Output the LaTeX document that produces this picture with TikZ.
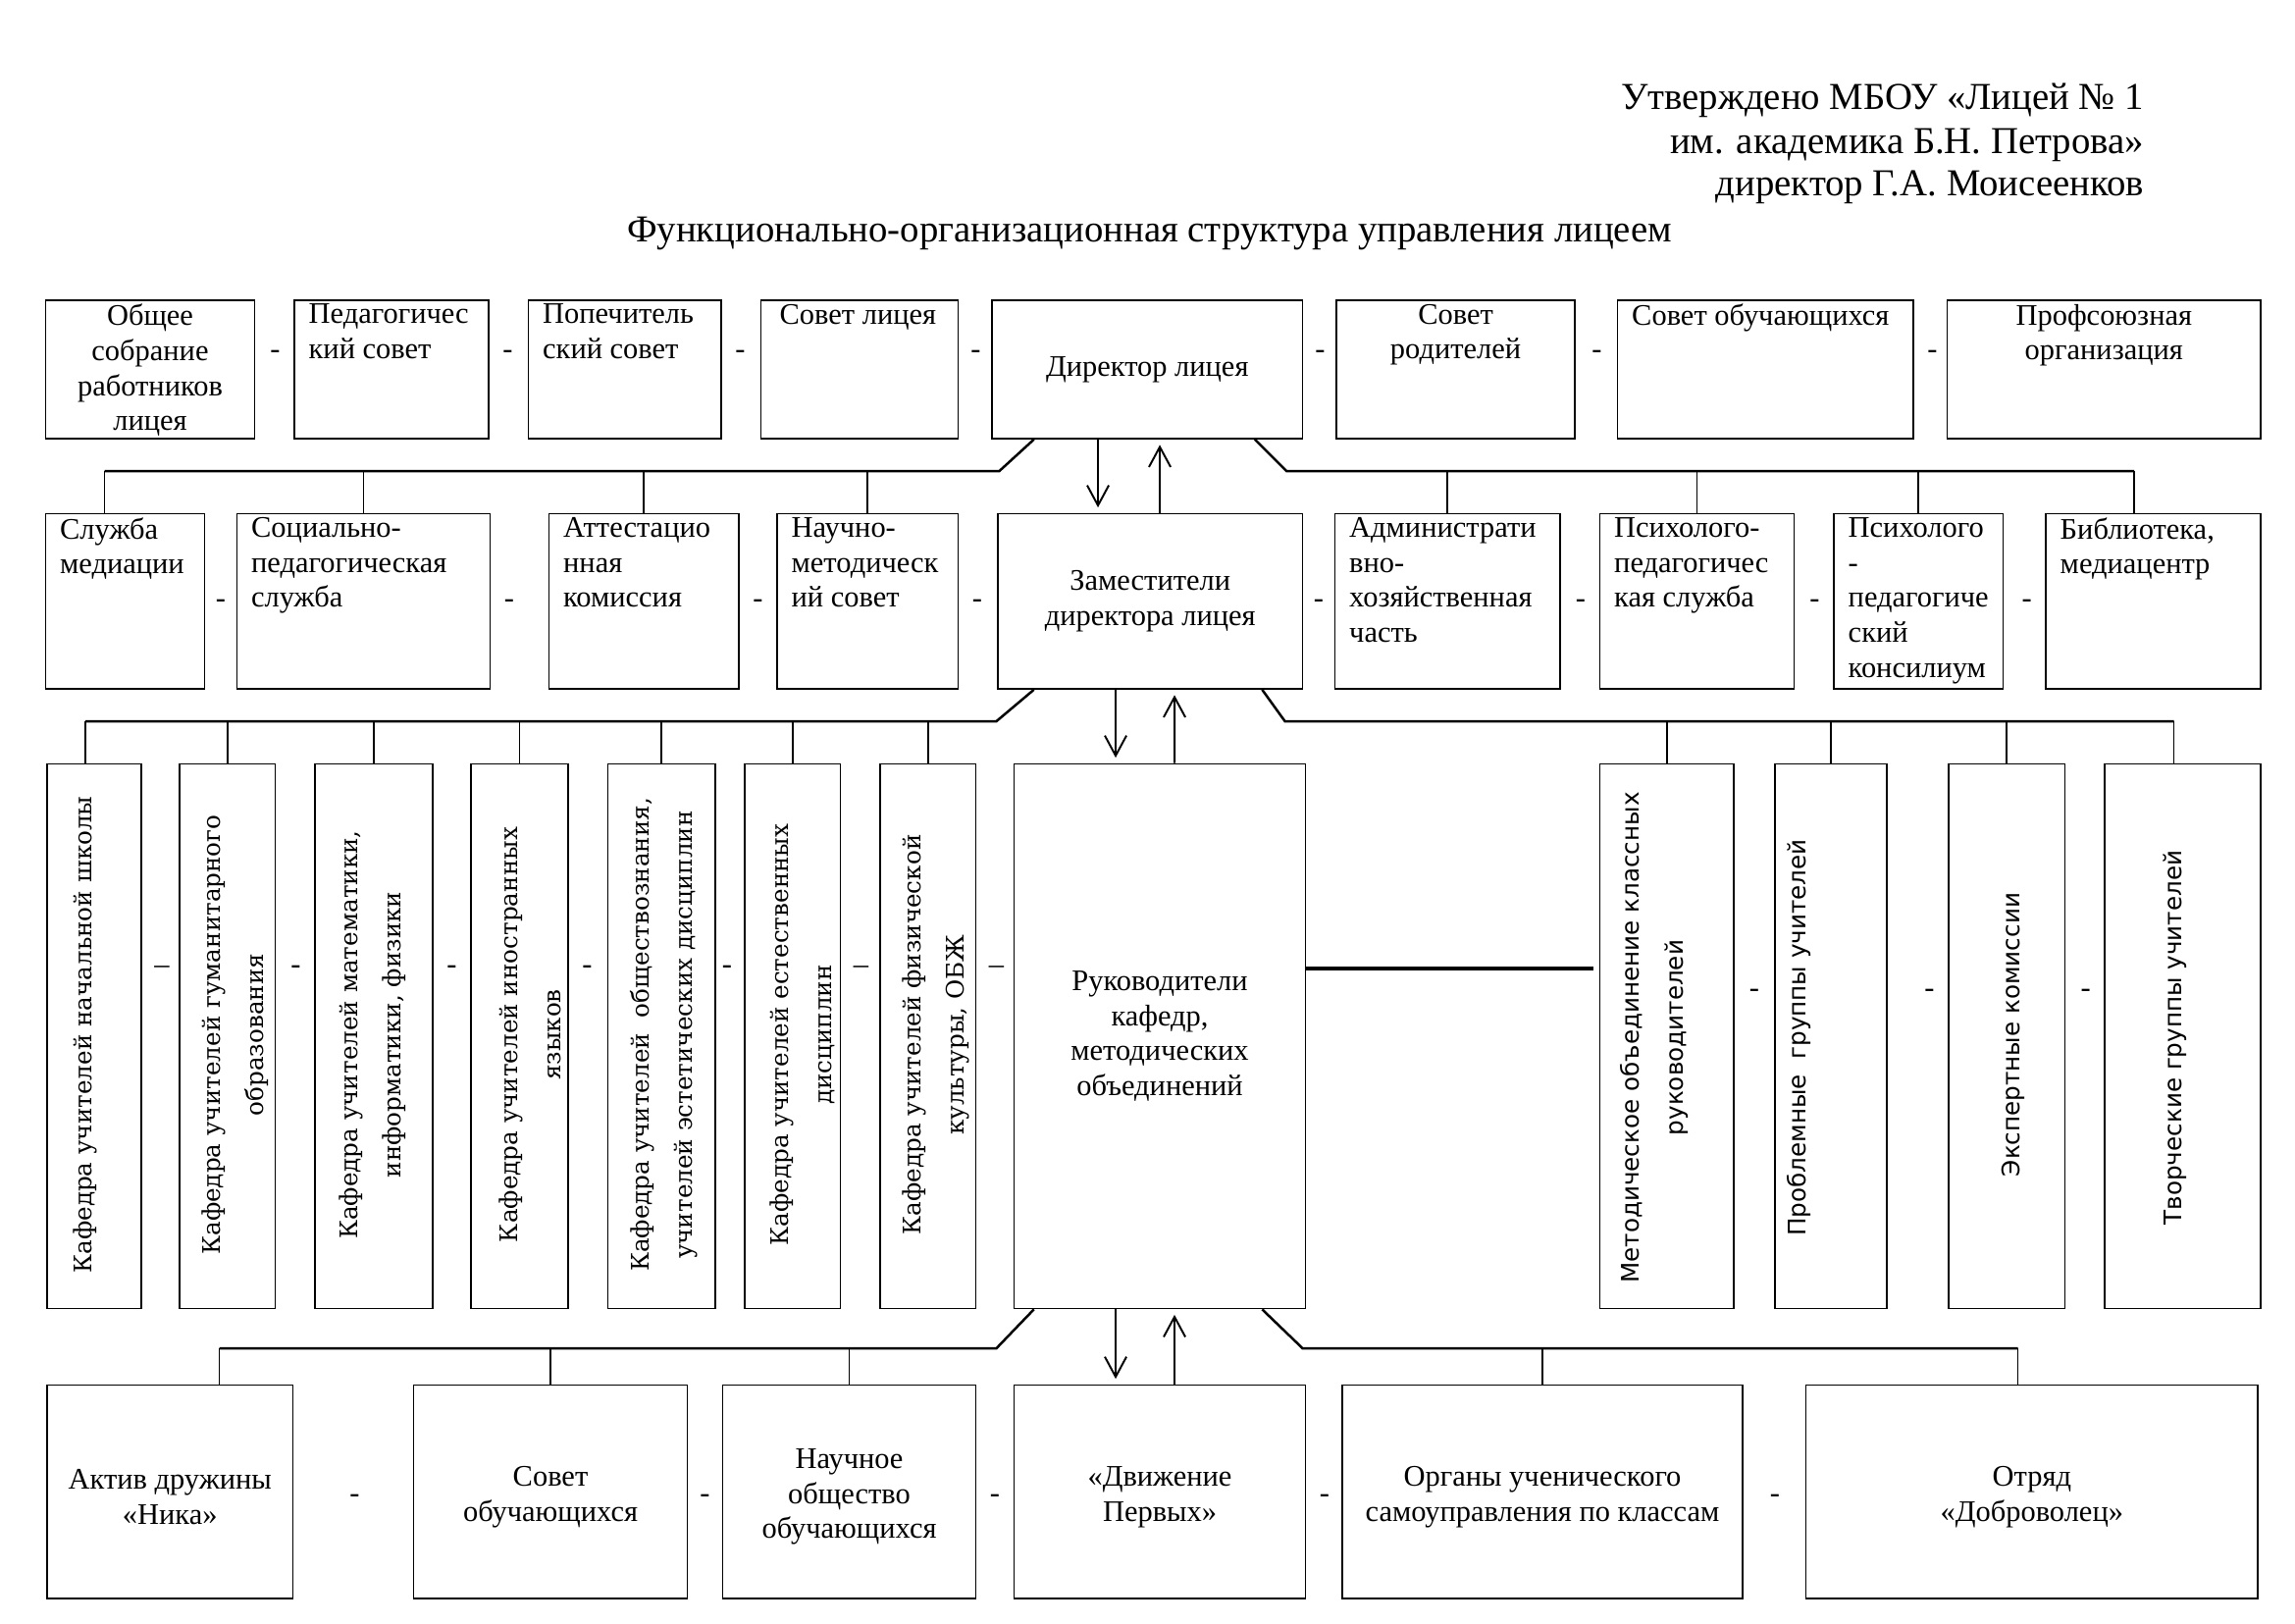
\documentclass[tikz,border=0pt]{standalone}
\usepackage{fontspec}
\setmainfont{Liberation Serif}
\newfontfamily\vserif{DejaVu Serif}
\newfontfamily\vsans{DejaVu Sans}
\usetikzlibrary{arrows.meta,fit,calc}

\begin{document}
\begin{tikzpicture}[x=0.01904cm, y=-0.01904cm]
    % Define styles
    \tikzstyle{box} = [draw, rectangle, line width=0.6pt, inner sep=0pt]
    \tikzstyle{ltxt} = [anchor=north west, align=left, inner xsep=5.4pt, inner ysep=1.5pt, font=\fontsize{11}{12.9}\selectfont]
    \tikzstyle{ctxt} = [anchor=north, align=center, inner xsep=0pt, inner ysep=1.5pt, font=\fontsize{11}{12.9}\selectfont]
    \tikzstyle{mtxt} = [align=center, inner sep=0pt, font=\fontsize{11}{12.9}\selectfont]
    \tikzstyle{vtxt} = [rotate=90, align=center, inner sep=0pt, font=\vserif\fontsize{8.9}{16}\selectfont]
    \tikzstyle{vstxt} = [rotate=90, align=center, inner sep=0pt, font=\vsans\fontsize{8.9}{16}\selectfont]
    \tikzstyle{hdr} = [inner sep=0pt, font=\fontsize{14}{16}\selectfont]
    \tikzstyle{sep} = [inner sep=0pt, font=\fontsize{11}{12.9}\selectfont]
    \tikzstyle{link} = [line width=0.6pt]
    \tikzstyle{bus} = [line width=0.9pt]
    \tikzstyle{arrow} = [line width=0.7pt, -{Straight Barb[length=2.6mm, width=2.8mm]}, shorten >=2pt]

    \useasboundingbox (0,0) rectangle (1559.3,1102.7);

    % Header
    \node [hdr, anchor=base east] (appr1) at (1457,74) {Утверждено МБОУ «Лицей № 1};
    \node [hdr, anchor=base east] (appr2) at (1457,104) {им. академика Б.Н. Петрова»};
    \node [hdr, anchor=base east] (appr3) at (1457,133) {директор Г.А. Моисеенков};
    \node [hdr, anchor=base] (title) at (781,164) {Функционально-организационная структура управления лицеем};

    % Row 1: director and councils
    \node [box, fit={(31,204) (173,298)}] (obs) {};
    \node [box, fit={(200,204) (332,298)}] (pedsov) {};
    \node [box, fit={(359,204) (490,298)}] (popsov) {};
    \node [box, fit={(517,204) (651,298)}] (sovlic) {};
    \node [box, fit={(674,204) (885,298)}] (dir) {};
    \node [box, fit={(908,204) (1070,298)}] (sovrod) {};
    \node [box, fit={(1099,204) (1300,298)}] (sovobu) {};
    \node [box, fit={(1323,204) (1536,298)}] (prof) {};
    \node [ctxt] (obs-t) at (obs.north) {Общее\\собрание\\работников\\лицея};
    \node [ltxt] (pedsov-t) at (pedsov.north west) {Педагогичес\\кий совет};
    \node [ltxt] (popsov-t) at (popsov.north west) {Попечитель\\ский совет};
    \node [ltxt, inner xsep=7pt] (sovlic-t) at (sovlic.north west) {Совет лицея};
    \node [mtxt] (dir-t) at (dir.center) {Директор лицея};
    \node [ctxt] (sovrod-t) at (sovrod.north) {Совет\\родителей};
    \node [ltxt] (sovobu-t) at (sovobu.north west) {Совет обучающихся};
    \node [ctxt] (prof-t) at (prof.north) {Профсоюзная\\организация};
    \node [sep] (s11) at (187,241) {-}; \node [sep] (s12) at (345,241) {-};
    \node [sep] (s13) at (503,241) {-}; \node [sep] (s14) at (663,241) {-};
    \node [sep] (s15) at (897,241) {-}; \node [sep] (s16) at (1085,241) {-};
    \node [sep] (s17) at (1313,241) {-};

    % Row 2: deputies and services
    \node [box, fit={(31,349) (139,468)}] (sluzh) {};
    \node [box, fit={(161,349) (333,468)}] (socped) {};
    \node [box, fit={(373,349) (502,468)}] (attest) {};
    \node [box, fit={(528,349) (651,468)}] (nmsov) {};
    \node [box, fit={(678,349) (885,468)}] (zam) {};
    \node [box, fit={(907,349) (1060,468)}] (adm) {};
    \node [box, fit={(1087,349) (1219,468)}] (psped) {};
    \node [box, fit={(1246,349) (1361,468)}] (konsil) {};
    \node [box, fit={(1390,349) (1536,468)}] (bibl) {};
    \node [ltxt] (sluzh-t) at (sluzh.north west) {Служба\\медиации};
    \node [ltxt] (socped-t) at (socped.north west) {Социально-\\педагогическая\\служба};
    \node [ltxt] (attest-t) at (attest.north west) {Аттестацио\\нная\\комиссия};
    \node [ltxt] (nmsov-t) at (nmsov.north west) {Научно-\\методическ\\ий совет};
    \node [mtxt] (zam-t) at (zam.center) {Заместители\\директора лицея};
    \node [ltxt] (adm-t) at (adm.north west) {Администрати\\вно-\\хозяйственная\\часть};
    \node [ltxt] (psped-t) at (psped.north west) {Психолого-\\педагогичес\\кая служба};
    \node [ltxt] (konsil-t) at (konsil.north west) {Психолого\\-\\педагогиче\\ский\\консилиум};
    \node [ltxt] (bibl-t) at (bibl.north west) {Библиотека,\\медиацентр};
    \node [sep] (s21) at (150,410) {-}; \node [sep] (s22) at (346,410) {-};
    \node [sep] (s23) at (515,410) {-}; \node [sep] (s24) at (664,410) {-};
    \node [sep] (s25) at (896,410) {-}; \node [sep] (s26) at (1074,410) {-};
    \node [sep] (s27) at (1233,410) {-}; \node [sep] (s28) at (1377,410) {-};

    % Row 3: departments and methodical groups
    \node [box, fit={(32,519) (96,889)}] (k1) {};
    \node [box, fit={(122,519) (187,889)}] (k2) {};
    \node [box, fit={(214,519) (294,889)}] (k3) {};
    \node [box, fit={(320,519) (386,889)}] (k4) {};
    \node [box, fit={(413,519) (486,889)}] (k5) {};
    \node [box, fit={(506,519) (571,889)}] (k6) {};
    \node [box, fit={(598,519) (663,889)}] (k7) {};
    \node [box, fit={(689,519) (887,889)}] (ruk) {};
    \node [box, fit={(1087,519) (1178,889)}] (mo) {};
    \node [box, fit={(1206,519) (1282,889)}] (probl) {};
    \node [box, fit={(1324,519) (1403,889)}] (exp) {};
    \node [box, fit={(1430,519) (1536,889)}] (tvor) {};
    \node [vtxt] (k1-t) at (58,703) {Кафедра учителей начальной школы};
    \node [vtxt] (k2-t) at (160,703) {Кафедра учителей гуманитарного\\образования};
    \node [vtxt] (k3-t) at (253,703) {Кафедра учителей математики,\\информатики, физики};
    \node [vtxt] (k4-t) at (360,703) {Кафедра учителей иностранных\\языков};
    \node [vtxt] (k5-t) at (451,703) {Кафедра учителей~ обществознания,\\учителей эстетических дисциплин};
    \node [vtxt] (k6-t) at (545,703) {Кафедра учителей естественных\\дисциплин};
    \node [vtxt] (k7-t) at (636,703) {Кафедра учителей физической\\культуры, ОБЖ};
    \node [mtxt] (ruk-t) at (ruk.center) {Руководители\\кафедр,\\методических\\объединений};
    \node [vstxt] (mo-t) at (1124,705) {Методическое объединение классных\\руководителей};
    \node [vstxt] (probl-t) at (1222,705) {Проблемные~ группы учителей};
    \node [vstxt] (exp-t) at (1368,703) {Экспертные комиссии};
    \node [vstxt] (tvor-t) at (1478,705) {Творческие группы учителей};
    \node [sep] (s31) at (110,659) {–}; \node [sep] (s32) at (201,659) {-};
    \node [sep] (s33) at (307,659) {-}; \node [sep] (s34) at (399,659) {-};
    \node [sep] (s35) at (494,659) {-}; \node [sep] (s36) at (585,659) {–};
    \node [sep] (s37) at (677,659) {–}; \node [sep] (s38) at (1192,675) {-};
    \node [sep] (s39) at (1311,675) {-}; \node [sep] (s310) at (1417,675) {-};

    % Row 4: pupils' organisations
    \node [box, fit={(32,941) (199,1086)}] (aktiv) {};
    \node [box, fit={(281,941) (467,1086)}] (sovob) {};
    \node [box, fit={(491,941) (663,1086)}] (nauch) {};
    \node [box, fit={(689,941) (887,1086)}] (dvizh) {};
    \node [box, fit={(912,941) (1184,1086)}] (organ) {};
    \node [box, fit={(1227,941) (1534,1086)}] (otryad) {};
    \node [mtxt] (aktiv-t) at (aktiv.center |- 0,1017) {Актив дружины\\«Ника»};
    \node [mtxt] (sovob-t) at (sovob.center |- 0,1017) {Совет\\обучающихся};
    \node [mtxt] (nauch-t) at (nauch.center |- 0,1017) {Научное\\общество\\обучающихся};
    \node [mtxt] (dvizh-t) at (dvizh.center |- 0,1017) {«Движение\\Первых»};
    \node [mtxt] (organ-t) at (organ.center |- 0,1017) {Органы ученического\\самоуправления по классам};
    \node [mtxt] (otryad-t) at (otryad.center |- 0,1017) {Отряд\\«Доброволец»};
    \node [sep] (s41) at (241,1018) {-}; \node [sep] (s42) at (479,1018) {-};
    \node [sep] (s43) at (676,1018) {-}; \node [sep] (s44) at (900,1018) {-};
    \node [sep] (s45) at (1206,1018) {-};

    % Bus corners
    \coordinate (b1l) at (71,320);   \coordinate (b1m) at (679,320);
    \coordinate (b1n) at (874,320);  \coordinate (b1r) at (1450,320);
    \coordinate (b2l) at (58,490);   \coordinate (b2m) at (677,490);
    \coordinate (b2n) at (873,490);  \coordinate (b2r) at (1477,490);
    \coordinate (b3l) at (149,916);  \coordinate (b3m) at (677,916);
    \coordinate (b3n) at (885,916);  \coordinate (b3r) at (1371,916);

    % Director -> row 2
    \draw [bus] ($(dir.south west)+(29,0)$) -- (b1m) -- (b1l);
    \draw [bus] ($(dir.south east)+(-33,0)$) -- (b1n) -- (b1r);
    \draw [link] (b1l) -- (b1l |- sluzh.north);
    \draw [link] (socped.north |- b1l) -- (socped.north);
    \draw [link] (attest.north |- b1l) -- (attest.north);
    \draw [link] (nmsov.north |- b1l) -- (nmsov.north);
    \draw [link] (adm.north |- b1r) -- (adm.north);
    \draw [link] (psped.north |- b1r) -- (psped.north);
    \draw [link] (konsil.north |- b1r) -- (konsil.north);
    \draw [link] (b1r) -- (b1r |- bibl.north);
    \draw [arrow] ($(dir.south)+(-33.5,0)$) -- ($(zam.north)+(-35.5,0)$);
    \draw [arrow] ($(zam.north)+(6.5,0)$) -- ($(dir.south)+(8.5,0)$);

    % Deputies -> row 3
    \draw [bus] ($(zam.south west)+(25,0)$) -- (b2m) -- (b2l);
    \draw [bus] ($(zam.south east)+(-28,0)$) -- (b2n) -- (b2r);
    \draw [link] (b2l) -- (b2l |- k1.north);
    \draw [link] (k2.north |- b2l) -- (k2.north);
    \draw [link] (k3.north |- b2l) -- (k3.north);
    \draw [link] (k4.north |- b2l) -- (k4.north);
    \draw [link] (k5.north |- b2l) -- (k5.north);
    \draw [link] (k6.north |- b2l) -- (k6.north);
    \draw [link] (k7.north |- b2l) -- (k7.north);
    \draw [link] (mo.north |- b2r) -- (mo.north);
    \draw [link] (probl.north |- b2r) -- (probl.north);
    \draw [link] (exp.north |- b2r) -- (exp.north);
    \draw [link] (b2r) -- (b2r |- tvor.north);
    \draw [arrow] ($(zam.south)+(-23.5,0)$) -- ($(ruk.north)+(-30,0)$);
    \draw [arrow] ($(ruk.north)+(10,0)$) -- ($(zam.south)+(16.5,0)$);
    \draw [line width=1.2pt] ($(ruk.east)+(0,-46)$) -- ($(mo.west)+(-4,-46)$);

    % Heads of departments -> row 4
    \draw [bus] ($(ruk.south west)+(14,0)$) -- (b3m) -- (b3l);
    \draw [bus] ($(ruk.south east)+(-30,0)$) -- (b3n) -- (b3r);
    \draw [link] (b3l) -- (b3l |- aktiv.north);
    \draw [link] (sovob.north |- b3l) -- (sovob.north);
    \draw [link] (nauch.north |- b3l) -- (nauch.north);
    \draw [link] (organ.north |- b3r) -- (organ.north);
    \draw [link] (b3r) -- (b3r |- otryad.north);
    \draw [arrow] ($(ruk.south)+(-30,0)$) -- ($(dvizh.north)+(-30,0)$);
    \draw [arrow] ($(dvizh.north)+(10,0)$) -- ($(ruk.south)+(10,0)$);
\end{tikzpicture}
\end{document}
